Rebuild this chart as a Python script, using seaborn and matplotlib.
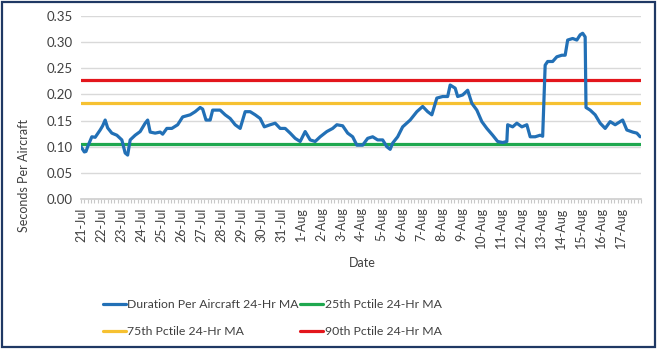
import numpy as np
import pandas as pd
import matplotlib
matplotlib.use("Agg")
import matplotlib.pyplot as plt
import matplotlib.dates as mdates
from matplotlib.patches import Rectangle
import seaborn as sns

sns.set_theme(style="white")
plt.rcParams['font.family'] = ['Lato', 'DejaVu Sans']

# ---------------- data ----------------
start_date = "2019-07-21"
n_days = 28
# hours since 21-Jul 00:00
hours = [0, 4, 6, 8, 13, 17, 23, 26, 29, 32, 37, 43, 49, 53, 56, 59, 65, 71, 77, 80,
         83, 89, 95, 98, 103, 109, 116, 122, 131, 137, 143, 146, 150, 155, 158, 167, 173,
         179, 185, 191, 197, 203, 209, 215, 220, 227, 233, 239, 245, 251, 257, 263, 269,
         275, 281, 287, 295, 302, 307, 314, 320, 326, 331, 338, 344, 350, 356, 362, 367,
         371, 374, 380, 386, 395, 403, 410, 416, 421, 427, 434, 440, 443, 449, 452, 458,
         464, 469, 475, 481, 487, 494, 500, 506, 511, 512, 518, 523, 529, 535, 539, 545,
         551, 554, 557, 560, 566, 571, 577, 581, 584, 590, 595, 599, 602, 605, 606, 611,
         617, 623, 629, 635, 641, 647, 650, 655, 662, 667, 671]
duration = [0.100, 0.090, 0.091, 0.100, 0.119, 0.118, 0.132, 0.140, 0.151, 0.136, 0.126,
            0.122, 0.113, 0.088, 0.084, 0.113, 0.122, 0.129, 0.145, 0.151, 0.128, 0.126,
            0.128, 0.124, 0.135, 0.135, 0.142, 0.157, 0.161, 0.167, 0.175, 0.172, 0.151,
            0.151, 0.170, 0.170, 0.161, 0.154, 0.142, 0.135, 0.167, 0.167, 0.161, 0.154,
            0.138, 0.142, 0.145, 0.135, 0.135, 0.126, 0.116, 0.110, 0.129, 0.113, 0.110,
            0.119, 0.129, 0.135, 0.142, 0.140, 0.126, 0.119, 0.103, 0.103, 0.116, 0.119,
            0.113, 0.113, 0.100, 0.095, 0.107, 0.119, 0.138, 0.151, 0.167, 0.177, 0.167,
            0.161, 0.193, 0.196, 0.196, 0.218, 0.212, 0.196, 0.199, 0.208, 0.183, 0.170,
            0.148, 0.135, 0.122, 0.110, 0.108, 0.110, 0.142, 0.138, 0.145, 0.138, 0.142,
            0.119, 0.119, 0.122, 0.120, 0.256, 0.263, 0.263, 0.272, 0.275, 0.275, 0.304,
            0.307, 0.304, 0.314, 0.317, 0.310, 0.175, 0.170, 0.161, 0.145, 0.135, 0.148,
            0.142, 0.148, 0.151, 0.132, 0.128, 0.126, 0.119]
p25 = 0.105
p75 = 0.183
p90 = 0.228
y_ticks = [0.00, 0.05, 0.10, 0.15, 0.20, 0.25, 0.30, 0.35]

series_labels = ["Duration Per Aircraft 24-Hr MA", "25th Pctile 24-Hr MA",
                 "75th Pctile 24-Hr MA", "90th Pctile 24-Hr MA"]
colors = ["#2270B6", "#1FA84F", "#F6C131", "#E3161C"]

start = pd.Timestamp(start_date)
df = pd.DataFrame({"Date": start + pd.to_timedelta(hours, unit="h"),
                   "Value": duration})

# ---------------- figure ----------------
W, H = 657, 361
fig = plt.figure(figsize=(W / 100, H / 100), dpi=100)
fig.patch.set_facecolor("white")

ax = fig.add_axes([81 / W, 1 - 199 / H, 560 / W, 183 / H])

sns.lineplot(data=df, x="Date", y="Value", ax=ax, color=colors[0], linewidth=2.3,
             label=series_labels[0])
for val, col, lab in zip([p25, p75, p90], colors[1:], series_labels[1:]):
    ax.axhline(val, color=col, linewidth=2.3, label=lab, zorder=1.5)

ax.set_ylim(0, 0.35)
ax.set_yticks(y_ticks)
ax.set_yticklabels([f"{v:.2f}" for v in y_ticks], fontsize=9.5, color="#404040")
ax.yaxis.grid(True, color="#D9D9D9", linewidth=1)
ax.set_axisbelow(True)

end = start + pd.Timedelta(days=n_days)
ax.set_xlim(start, end)
day_ticks = pd.date_range(start, periods=n_days, freq="D")
ax.set_xticks(day_ticks)
ax.set_xticklabels([f"{d.day}-{d.strftime('%b')}" for d in day_ticks],
                   rotation=90, fontsize=9, color="#404040")
ax.xaxis.set_minor_locator(mdates.HourLocator(byhour=range(0, 24, 4)))
ax.tick_params(axis="x", which="both", length=3, color="#C8C8C8", width=0.8,
               bottom=True, pad=3)
ax.tick_params(axis="y", length=0, pad=6)

for s in ["top", "right", "left"]:
    ax.spines[s].set_visible(False)
ax.spines["bottom"].set_color("#D0D0D0")

ax.set_xlabel("")
ax.set_ylabel("")
fig.text(24 / W, 1 - 175 / H, "Seconds Per Aircraft", rotation=90, ha="center",
         va="center", fontsize=9, color="#404040")
fig.text(362 / W, 1 - 263 / H, "Date", ha="center", va="center", fontsize=9,
         color="#404040")

handles, labels = ax.get_legend_handles_labels()
if ax.get_legend() is not None:
    ax.get_legend().remove()
# column-major fill: rows -> (Duration, 25th), (75th, 90th)
leg_order = [series_labels[0], series_labels[2], series_labels[1], series_labels[3]]
idx = [labels.index(l) for l in leg_order]
leg = fig.legend([handles[i] for i in idx], [labels[i] for i in idx],
                 ncol=2, loc="upper left", bbox_to_anchor=(103 / W, 1 - 299 / H),
                 frameon=False, fontsize=8.8, handlelength=1.85, handletextpad=0.15,
                 columnspacing=0.1, labelspacing=1.3, borderaxespad=0, borderpad=0)
for t in leg.get_texts():
    t.set_color("#404040")

fig.patches.append(Rectangle((1.5 / W, 1 - 347 / H), 653 / W, 345.5 / H,
                             transform=fig.transFigure, fill=False,
                             edgecolor="#1F3864", linewidth=1.6))

fig.savefig("out.png", dpi=100, facecolor="white")
